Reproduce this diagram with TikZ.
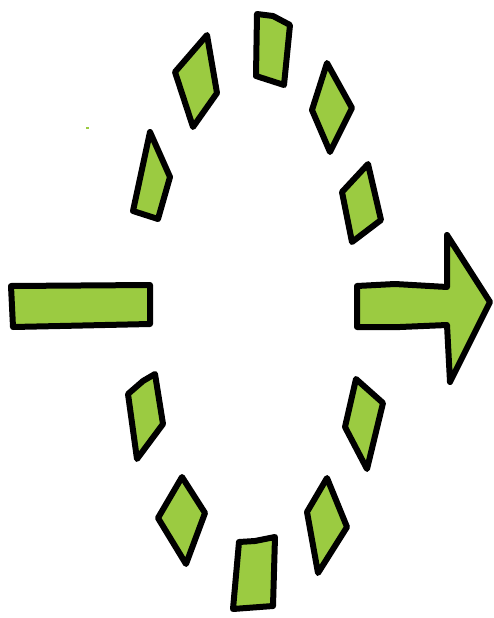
\documentclass[tikz,border=0pt]{standalone}
\definecolor{leafgreen}{RGB}{155,203,65}
\usepackage{tikz}
\usetikzlibrary{calc}

\tikzset{
  piece/.style={fill=leafgreen, draw=black, line width=6pt, line join=round, line cap=round},
}

\begin{document}
\begin{tikzpicture}[x=1pt, y=-1pt]
    \useasboundingbox (0,0) rectangle (493,618);

    % Ring of dashes, clockwise from the top
    \draw[piece] (257,14) -- (273,16) -- (290,25) -- (284,85) -- (256,76) -- cycle;
    \draw[piece] (327,63) -- (352,108) -- (330,152) -- (312,110) -- cycle;
    \draw[piece] (342,192) -- (368,164) -- (381,220) -- (352,242) -- cycle;
    \draw[piece] (356,379) -- (383,403) -- (367,469) -- (345,427) -- cycle;
    \draw[piece] (327,478) -- (347,527) -- (318,573) -- (307,512) -- cycle;
    \draw[piece] (239,542) -- (255,541) -- (275,537) -- (273,606) -- (233,609) -- cycle;
    \draw[piece] (182,477) -- (205,513) -- (186,564) -- (158,518) -- cycle;
    \draw[piece] (128,394) -- (143,381) -- (155,374) -- (163,424) -- (137,459) -- cycle;
    \draw[piece] (150,132) -- (170,177) -- (158,219) -- (133,211) -- cycle;
    \draw[piece] (175,72) -- (207,35) -- (217,93) -- (193,127) -- cycle;

    % Bar on the left
    \draw[piece] (11,286) -- (150,285) -- (150,324) -- (60,326) -- (13,327) -- cycle;

    % Arrow on the right
    \draw[piece] (357,286) -- (395,284) -- (447,287) -- (447,235) -- (490,302)
        -- (450,382) -- (447,325) -- (400,327) -- (357,327) -- cycle;

    % Stray speck
    \fill[leafgreen] (86,127) rectangle (89,129);
\end{tikzpicture}
\end{document}
